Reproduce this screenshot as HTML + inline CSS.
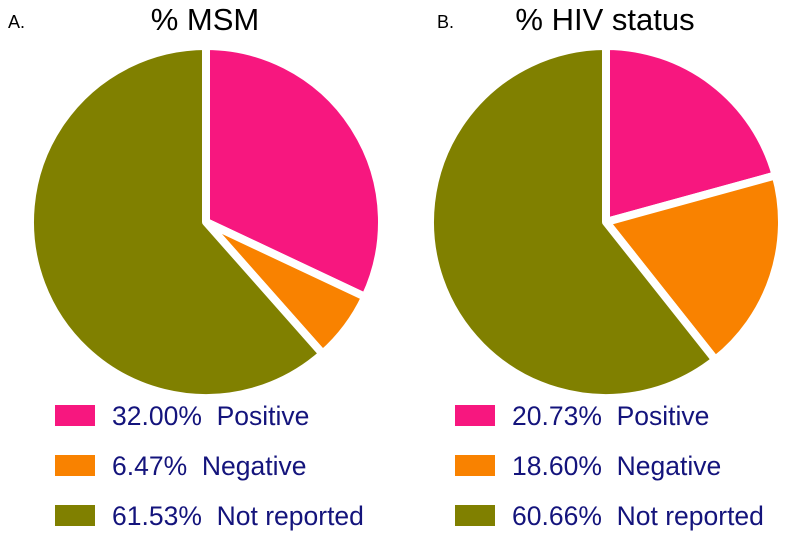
<!DOCTYPE html>
<html><head><meta charset="utf-8"><style>
body{margin:0;background:#fff;width:789px;height:534px;overflow:hidden}
svg{display:block}
text{font-family:"Liberation Sans",sans-serif;white-space:pre}
</style></head><body>
<svg id="c" width="789" height="534">
<text x="8" y="28" font-size="18" fill="#000">A.</text>
<text x="205" y="30" font-size="31" text-anchor="middle" fill="#000">% MSM</text>
<text x="437" y="28" font-size="18" fill="#000">B.</text>
<text x="605" y="30" font-size="31" text-anchor="middle" fill="#000">% HIV status</text>
</svg>
<script>
const categories=["Positive","Negative","Not reported"];
const msmValues=[32.00,6.47,61.53];
const hivValues=[20.73,18.60,60.66];
const colors=["#f7177f","#f98200","#808000"];
const svg=document.getElementById('c');
const NS="http://www.w3.org/2000/svg";
function pie(vals,cx,cy,r,lx,name){
  const tot=vals.reduce((a,b)=>a+b,0);let a0=0;
  vals.forEach((v,i)=>{
    const a1=a0+v/tot*2*Math.PI;
    const p=document.createElementNS(NS,'path');
    const x0=cx+r*Math.sin(a0),y0=cy-r*Math.cos(a0),x1=cx+r*Math.sin(a1),y1=cy-r*Math.cos(a1);
    p.setAttribute('d',`M${cx},${cy}L${x0},${y0}A${r},${r} 0 ${a1-a0>Math.PI?1:0} 1 ${x1},${y1}Z`);
    p.setAttribute('fill',colors[i]);p.setAttribute('stroke','#fff');p.setAttribute('stroke-width','8');
    p.setAttribute('stroke-linejoin','round');
    
    
    svg.appendChild(p);a0=a1;
    const y=405+i*50;
    const s=document.createElementNS(NS,'rect');
    s.setAttribute('x',lx);s.setAttribute('y',y);s.setAttribute('width',40);s.setAttribute('height',21);s.setAttribute('fill',colors[i]);
    
    
    svg.appendChild(s);
    const t=document.createElementNS(NS,'text');
    t.setAttribute('x',lx+57);t.setAttribute('y',y+20);t.setAttribute('font-size','26.5');t.setAttribute('fill','#14147c');
    t.textContent=v.toFixed(2)+'%  '+categories[i];
    
    
    svg.appendChild(t);
  });
}
pie(msmValues,206,222,176,55,'msm');
pie(hivValues,606,222,176,455,'hiv');
</script>
</body></html>
